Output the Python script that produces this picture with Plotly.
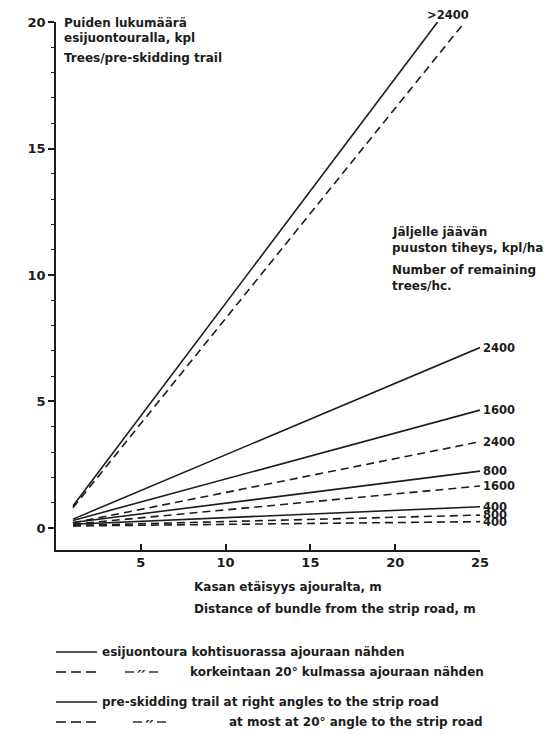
import plotly.graph_objects as go

# ---- data ----
x_start = 1
solid_labels = [">2400", "2400", "1600", "800", "400"]
solid_x_end = [22.5, 25, 25, 25, 25]
solid_y_start = [0.87, 0.35, 0.30, 0.22, 0.15]
solid_y_end = [20.0, 7.13, 4.66, 2.25, 0.84]

dashed_labels = [">2400", "2400", "1600", "800", "400"]
dashed_x_end = [24.1, 25, 25, 25, 25]
dashed_y_start = [0.80, 0.20, 0.15, 0.10, 0.08]
dashed_y_end = [20.0, 3.41, 1.66, 0.51, 0.25]

x_ticks = [5, 10, 15, 20, 25]
y_ticks = [0, 5, 10, 15, 20]

# ---- layout geometry (pixels) ----
W, H = 545, 734
L, R, T, B = 56, 65, 22, 184
PW, PH = W - L - R, H - T - B
INK = "#1c1c1c"
FONT = "DejaVu Sans"


def px(x):
    return (x - L) / PW


def py(y):
    return (H - B - y) / PH


fig = go.Figure()

for lab, xe, y0, y1 in zip(solid_labels, solid_x_end, solid_y_start, solid_y_end):
    fig.add_trace(go.Scatter(x=[x_start, xe], y=[y0, y1], mode="lines",
                             line=dict(color=INK, width=1.6), showlegend=False,
                             hoverinfo="skip"))
for lab, xe, y0, y1 in zip(dashed_labels, dashed_x_end, dashed_y_start, dashed_y_end):
    fig.add_trace(go.Scatter(x=[x_start, xe], y=[y0, y1], mode="lines",
                             line=dict(color=INK, width=1.6, dash="8px,5px"),
                             showlegend=False, hoverinfo="skip"))

lab_font = dict(family=FONT, size=11.5, color=INK, weight="bold")
# end labels
for labels, xs, ys in ((solid_labels, solid_x_end, solid_y_end),
                       (dashed_labels, dashed_x_end, dashed_y_end)):
    for lab, xe, ye in zip(labels, xs, ys):
        if lab == ">2400":
            continue
        fig.add_annotation(x=xe, y=ye, text=lab, showarrow=False,
                           xanchor="left", yanchor="middle", xshift=1,
                           font=lab_font)
fig.add_annotation(xref="paper", yref="paper", x=px(448), y=py(15),
                   text=solid_labels[0], showarrow=False,
                   xanchor="center", yanchor="middle", font=lab_font)

txt_font = dict(family=FONT, size=12, color=INK, weight="bold")


def text(x, y, s, anchor="left"):
    fig.add_annotation(xref="paper", yref="paper", x=px(x), y=py(y), text=s,
                       showarrow=False, xanchor=anchor, yanchor="middle",
                       font=txt_font)


# y title
text(62, 23, "Puiden lukumäärä")
text(62, 38, "esijuontouralla, kpl")
text(62, 58, "Trees/pre-skidding trail")
# density title
text(390, 232, "Jäljelle jäävän")
text(390, 248, "puuston tiheys, kpl/ha")
text(390, 270, "Number of remaining")
text(390, 286, "trees/hc.")
# x title
text(192, 587, "Kasan etäisyys ajouralta, m")
text(192, 609, "Distance of bundle from the strip road, m")

# legend
legend_rows = [
    (652, "solid", False, 100, "esijuontoura kohtisuorassa ajouraan nähden"),
    (672, "dash", True, 188, "korkeintaan 20° kulmassa ajouraan nähden"),
    (702, "solid", False, 100, "pre-skidding trail at right angles to the strip road"),
    (722, "dash", True, 227, "at most at 20° angle to the strip road"),
]
for yy, style, ditto, tx, s in legend_rows:
    if style == "solid":
        fig.add_shape(type="line", xref="paper", yref="paper",
                      x0=px(56), x1=px(97), y0=py(yy), y1=py(yy),
                      line=dict(color=INK, width=1.6))
    else:
        for a, b in ((56, 66), (71, 81), (86, 96)):
            fig.add_shape(type="line", xref="paper", yref="paper",
                          x0=px(a), x1=px(b), y0=py(yy), y1=py(yy),
                          line=dict(color=INK, width=1.6))
    if ditto:
        dx = 125 if tx < 200 else 133
        fig.add_shape(type="line", xref="paper", yref="paper",
                      x0=px(dx), x1=px(dx + 9), y0=py(yy), y1=py(yy),
                      line=dict(color=INK, width=1.4))
        fig.add_shape(type="line", xref="paper", yref="paper",
                      x0=px(dx + 24), x1=px(dx + 33), y0=py(yy), y1=py(yy),
                      line=dict(color=INK, width=1.4))
        fig.add_annotation(xref="paper", yref="paper", x=px(dx + 16.5), y=py(yy + 1),
                           text="״", showarrow=False, xanchor="center",
                           yanchor="middle",
                           font=dict(family=FONT, size=15, color=INK, weight="bold"))
    text(tx, yy, s)

fig.update_layout(
    width=W, height=H,
    margin=dict(l=L, r=R, t=T, b=B, autoexpand=False),
    paper_bgcolor="white", plot_bgcolor="white",
    showlegend=False,
    xaxis=dict(range=[0, 25], tickvals=x_ticks, ticktext=[str(v) for v in x_ticks],
               showgrid=False, zeroline=False, showline=True, linecolor=INK,
               linewidth=1.6, ticks="inside", ticklen=6, tickwidth=1.6,
               tickcolor=INK,
               tickfont=dict(family=FONT, size=13, color=INK, weight="bold")),
    yaxis=dict(range=[-0.87, 20], tickvals=y_ticks, ticktext=[str(v) for v in y_ticks],
               showgrid=False, zeroline=False, showline=True, linecolor=INK,
               linewidth=1.6, ticks="outside", ticklen=6, tickwidth=1.6,
               tickcolor=INK,
               minor=dict(dtick=1, tick0=0, ticks="outside", ticklen=3,
                          tickwidth=1.2, tickcolor=INK),
               tickfont=dict(family=FONT, size=13, color=INK, weight="bold")),
)

fig.write_html("out.html", config={"displayModeBar": False},
               post_script="document.body.style.margin='0';document.body.style.padding='0';")
